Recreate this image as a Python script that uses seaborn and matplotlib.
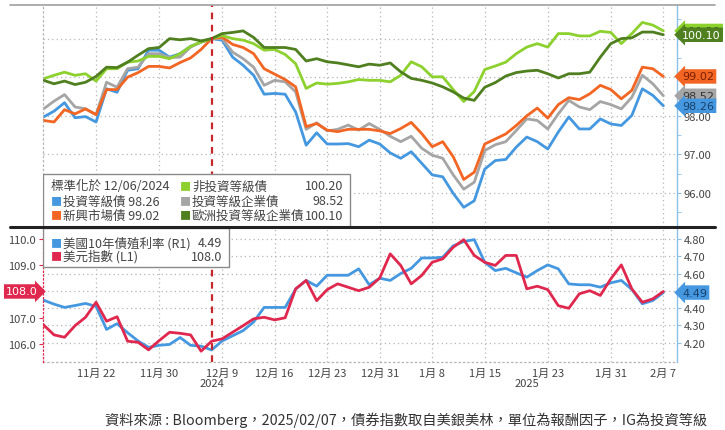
import matplotlib
matplotlib.use("Agg")
import matplotlib.pyplot as plt
import seaborn as sns
import numpy as np
from matplotlib.lines import Line2D
from matplotlib.patches import Rectangle
from matplotlib.transforms import blended_transform_factory

sns.set_style("white")
plt.rcParams['font.family'] = ['Noto Sans CJK TC', 'DejaVu Sans']

# --- data (trading-day index 0..59, 12/06/2024 = 16) ---
ig = [97.97, 98.12, 98.34, 97.95, 97.98, 97.84, 98.70, 98.61, 99.18, 99.22,
      99.70, 99.70, 99.52, 99.61, 99.80, 99.91, 100.00, 99.96, 99.52, 99.31,
      99.05, 98.56, 98.58, 98.56, 98.10, 97.24, 97.56, 97.27, 97.27, 97.28,
      97.20, 97.37, 97.27, 97.04, 96.90, 97.07, 96.77, 96.47, 96.42, 95.99,
      95.63, 95.80, 96.62, 96.84, 96.87, 97.19, 97.45, 97.33, 97.14, 97.58,
      97.97, 97.66, 97.66, 97.92, 97.79, 97.75, 98.01, 98.70, 98.53, 98.26]
ig_corp = [98.18, 98.38, 98.55, 98.23, 98.18, 98.03, 98.87, 98.74, 99.22, 99.26,
           99.61, 99.61, 99.51, 99.52, 99.78, 99.91, 100.00, 100.00, 99.65, 99.48,
           99.26, 98.79, 98.92, 98.88, 98.62, 97.65, 97.82, 97.61, 97.65, 97.76,
           97.63, 97.80, 97.65, 97.47, 97.33, 97.47, 97.16, 96.98, 96.90, 96.47,
           96.10, 96.28, 97.10, 97.25, 97.33, 97.62, 97.92, 97.88, 97.66, 98.05,
           98.40, 98.23, 98.16, 98.37, 98.29, 98.18, 98.48, 99.05, 98.83, 98.52]
em = [97.88, 97.84, 98.16, 98.05, 98.18, 98.03, 98.68, 98.68, 99.00, 99.12,
      99.28, 99.28, 99.24, 99.38, 99.50, 99.72, 100.00, 100.04, 99.85, 99.77,
      99.61, 99.22, 99.08, 98.94, 98.75, 97.72, 97.80, 97.63, 97.59, 97.65,
      97.65, 97.65, 97.61, 97.54, 97.67, 97.83, 97.54, 97.20, 97.33, 96.94,
      96.35, 96.54, 97.27, 97.40, 97.53, 97.75, 98.00, 98.20, 97.94, 98.29,
      98.47, 98.42, 98.57, 98.79, 98.68, 98.44, 98.66, 99.26, 99.22, 99.02]
hy = [98.96, 99.05, 99.13, 99.05, 99.09, 98.90, 99.22, 99.22, 99.39, 99.42,
      99.54, 99.54, 99.48, 99.61, 99.80, 99.91, 100.00, 100.08, 100.00, 99.96,
      99.87, 99.70, 99.72, 99.59, 99.35, 98.71, 98.85, 98.82, 98.84, 98.88,
      98.94, 98.92, 98.92, 98.88, 99.05, 99.40, 99.27, 99.01, 99.01, 98.68,
      98.37, 98.63, 99.20, 99.29, 99.39, 99.61, 99.78, 99.87, 99.78, 100.13,
      100.13, 100.07, 100.07, 100.19, 100.16, 99.87, 100.13, 100.42, 100.35, 100.20]
eu = [98.92, 98.83, 98.90, 98.81, 98.87, 99.02, 99.26, 99.25, 99.39, 99.57,
      99.74, 99.77, 100.00, 99.97, 100.00, 99.94, 100.00, 100.13, 100.16, 100.20,
      100.03, 99.77, 99.77, 99.77, 99.72, 99.42, 99.48, 99.40, 99.37, 99.32,
      99.27, 99.34, 99.31, 99.37, 99.14, 98.97, 98.92, 98.85, 98.75, 98.62,
      98.46, 98.40, 98.74, 98.86, 99.03, 99.12, 99.16, 99.18, 99.09, 98.98,
      99.09, 99.09, 99.13, 99.52, 99.87, 100.00, 100.02, 100.17, 100.17, 100.10]
ust10 = [4.446, 4.423, 4.404, 4.415, 4.427, 4.410, 4.277, 4.310, 4.258, 4.210,
         4.173, 4.185, 4.190, 4.230, 4.185, 4.180, 4.158, 4.210, 4.240, 4.270,
         4.320, 4.404, 4.404, 4.404, 4.510, 4.560, 4.527, 4.590, 4.590, 4.590,
         4.627, 4.535, 4.573, 4.560, 4.600, 4.630, 4.690, 4.690, 4.694, 4.760,
         4.785, 4.796, 4.665, 4.617, 4.630, 4.604, 4.579, 4.617, 4.650, 4.627,
         4.540, 4.535, 4.535, 4.521, 4.546, 4.560, 4.508, 4.425, 4.444, 4.490]
dxy = [106.73, 106.35, 106.26, 106.70, 107.02, 107.59, 106.87, 107.04, 106.11, 106.07,
       105.78, 106.13, 106.45, 106.41, 106.35, 105.73, 106.11, 106.20, 106.45, 106.70,
       106.96, 107.02, 106.92, 107.00, 108.10, 108.42, 107.65, 108.07, 108.29, 108.16,
       108.03, 108.16, 108.51, 109.43, 108.99, 108.29, 108.61, 109.11, 109.24, 109.68,
       109.97, 109.37, 109.11, 108.99, 109.37, 109.37, 108.10, 108.20, 108.07, 107.46,
       107.36, 107.91, 108.03, 107.85, 108.48, 109.01, 108.10, 107.59, 107.72, 108.00]
base_idx = 16
tick_pos = [5, 11, 17, 22, 27, 32, 37, 42, 48, 54, 59]
tick_labels = ['11月 22', '11月 30', '12月 9', '12月 16', '12月 23', '12月 31',
               '1月 8', '1月 15', '1月 23', '1月 31', '2月 7']
year_labels = [(16, '2024'), (46, '2025')]
x = np.arange(len(ig))

C_IG = '#4598e0'
C_IGC = '#a5a5a5'
C_EM = '#f26522'
C_HY = '#8dd12f'
C_EU = '#4f7f1f'
C_DXY = '#e0284f'
C_AX = '#8cc0e6'
GRID = dict(color='#b5b5b5', linestyle=(0, (1, 2.5)), linewidth=0.9)


def tag(ax, y, text, fc, tc, side='right'):
    trans = blended_transform_factory(ax.transAxes, ax.transData)
    if side == 'right':
        ax.text(1.008, y, text, transform=trans, ha='left', va='center', fontsize=8,
                color=tc, family=['DejaVu Sans'], clip_on=False, zorder=20,
                bbox=dict(boxstyle='larrow,pad=0.2', fc=fc, ec='none'))
    else:
        ax.text(-0.008, y, text, transform=trans, ha='right', va='center', fontsize=8,
                color=tc, family=['DejaVu Sans'], clip_on=False, zorder=20,
                bbox=dict(boxstyle='rarrow,pad=0.2', fc=fc, ec='none'))


fig = plt.figure(figsize=(7.25, 4.31), dpi=100)
ax_t = fig.add_axes([0.0593, 0.471, 0.8745, 0.515])
ax_b = fig.add_axes([0.0593, 0.158, 0.8745, 0.311])
ax_l = ax_b.twinx()

# ---------- top panel ----------
for vals, col in [(ig, C_IG), (ig_corp, C_IGC), (em, C_EM), (hy, C_HY), (eu, C_EU)]:
    sns.lineplot(x=x, y=vals, color=col, linewidth=2.0, ax=ax_t)
ax_t.axvline(base_idx, color='#c8262d', linestyle=(0, (3, 2.5)), linewidth=1.6, zorder=3)
ax_t.set_xlim(-0.05, 60.3)
ax_t.set_ylim(95.12, 100.87)
ax_t.yaxis.tick_right()
ax_t.set_yticks([96, 97, 98, 99, 100])
ax_t.set_yticklabels(['96.00', '97.00', '98.00', '', ''])
ax_t.set_yticks(np.arange(95.5, 101, 1.0), minor=True)
ax_t.set_xticks(tick_pos)
ax_t.set_xticklabels([])
ax_t.tick_params(axis='x', length=0)
ax_t.tick_params(axis='y', which='both', right=True, length=3, color=C_AX,
                 labelsize=8, labelcolor='#444444', pad=2)
ax_t.grid(True, **GRID)
for s in ['top', 'bottom']:
    ax_t.spines[s].set_visible(False)
ax_t.spines['left'].set(color='#b5b5b5', linestyle=(0, (1, 2.5)), linewidth=0.9)
ax_t.spines['right'].set(color=C_AX, linewidth=1.0)

tag(ax_t, 100.20, '100.20', C_HY, '#2d4a0a')
tag(ax_t, 100.10, '100.10', C_EU, 'white')
tag(ax_t, 99.02, '99.02', C_EM, '#7a1f00')
tag(ax_t, 98.52, '98.52', C_IGC, '#333333')
tag(ax_t, 98.26, '98.26', C_IG, '#17406b')

# legend box (top)
ax_t.add_patch(Rectangle((0.0, 0.0), 0.484, 0.238, transform=ax_t.transAxes,
                         fc='white', ec='#8a8a8a', lw=1.0, zorder=8))
fs = 9
rows = [0.185, 0.118, 0.052]
ax_t.text(0.012, rows[0], '標準化於 12/06/2024', transform=ax_t.transAxes,
          fontsize=fs, color='#444444', va='center', zorder=9)
left_items = [('投資等級債 98.26', C_IG), ('新興市場債 99.02', C_EM)]
for (lab, col), ry in zip(left_items, rows[1:]):
    ax_t.text(0.012, ry, '■', transform=ax_t.transAxes, fontsize=8, color=col,
              va='center', zorder=9)
    ax_t.text(0.031, ry, lab, transform=ax_t.transAxes, fontsize=fs,
              color='#444444', va='center', zorder=9)
right_items = [('非投資等級債', '100.20', C_HY), ('投資等級企業債', '98.52', C_IGC),
               ('歐洲投資等級企業債', '100.10', C_EU)]
for (lab, v, col), ry in zip(right_items, rows):
    ax_t.text(0.216, ry, '■', transform=ax_t.transAxes, fontsize=8, color=col,
              va='center', zorder=9)
    ax_t.text(0.235, ry, lab, transform=ax_t.transAxes, fontsize=fs,
              color='#444444', va='center', zorder=9)
    ax_t.text(0.474, ry, v, transform=ax_t.transAxes, fontsize=fs,
              color='#444444', va='center', ha='right', zorder=9)

# ---------- bottom panel: yield (right axis) ----------
sns.lineplot(x=x, y=ust10, color=C_IG, linewidth=2.0, ax=ax_b)
ax_b.axvline(base_idx, color='#c8262d', linestyle=(0, (3, 2.5)), linewidth=1.6, zorder=3)
ax_b.set_xlim(-0.05, 60.3)
ax_b.set_ylim(4.089, 4.864)
ax_b.set_yticks([4.2, 4.3, 4.4, 4.5, 4.6, 4.7, 4.8])
ax_b.set_yticklabels(['4.20', '4.30', '4.40', '', '4.60', '4.70', '4.80'])
ax_b.yaxis.tick_right()
ax_b.tick_params(axis='y', left=False, right=True, labelleft=False, labelright=True,
                 length=3, color=C_AX, labelsize=8, labelcolor='#444444', pad=2)
ax_b.set_ylabel('')
ax_b.set_xticks(tick_pos)
ax_b.set_xticklabels(tick_labels)
ax_b.set_xticks(x, minor=True)
ax_b.tick_params(axis='x', which='major', length=3, color='#9a9a9a', labelsize=8,
                 labelcolor='#444444', pad=1)
ax_b.tick_params(axis='x', which='minor', length=2, color='#9a9a9a')
ax_b.grid(True, **GRID)
ax_b.spines['top'].set_visible(False)
ax_b.spines['bottom'].set(color='#b5b5b5', linestyle=(0, (1, 2.5)), linewidth=0.9)
ax_b.spines['left'].set_visible(False)
ax_b.spines['right'].set(color=C_AX, linewidth=1.0)
for pos, yr in year_labels:
    ax_b.text(pos, -0.158, yr, transform=blended_transform_factory(ax_b.transData, ax_b.transAxes),
              ha='center', va='center', fontsize=8, color='#444444')

# ---------- bottom panel: dollar index (left axis) ----------
sns.lineplot(x=x, y=dxy, color=C_DXY, linewidth=2.0, ax=ax_l)
ax_l.set_ylim(105.323, 110.418)
ax_l.set_yticks([106, 107, 108, 109, 110])
ax_l.set_yticklabels(['106.0', '107.0', '', '109.0', '110.0'])
ax_l.yaxis.tick_left()
ax_l.tick_params(axis='y', left=True, right=False, labelleft=True, labelright=False,
                 length=3, color=C_DXY, labelsize=8, labelcolor='#444444', pad=2)
ax_l.set_ylabel('')
for s in ['top', 'bottom', 'right']:
    ax_l.spines[s].set_visible(False)
ax_l.spines['left'].set(color=C_DXY, linestyle=(0, (1, 2)), linewidth=0.9)

tag(ax_b, 4.49, '4.49', C_IG, '#17406b')
tag(ax_l, 108.0, '108.0', C_DXY, 'white', side='left')

# legend box (bottom)
ax_l.add_patch(Rectangle((0.0, 0.71), 0.293, 0.29, transform=ax_l.transAxes,
                         fc='white', ec='#8a8a8a', lw=1.0, zorder=8))
bot_items = [('美國10年債殖利率 (R1)', '4.49', C_IG, 0.888),
             ('美元指數 (L1)', '108.0', C_DXY, 0.790)]
for lab, v, col, ry in bot_items:
    ax_l.text(0.012, ry, '■', transform=ax_l.transAxes, fontsize=8, color=col,
              va='center', zorder=9)
    ax_l.text(0.031, ry, lab, transform=ax_l.transAxes, fontsize=fs,
              color='#444444', va='center', zorder=9)
    ax_l.text(0.283, ry, v, transform=ax_l.transAxes, fontsize=fs,
              color='#444444', va='center', ha='right', zorder=9)

# frame lines
fig.add_artist(Line2D([0.014, 0.986], [0.986, 0.986], color='#a0a0a0', lw=1.2))
fig.add_artist(Line2D([0.014, 0.986], [0.4705, 0.4705], color='#222222', lw=2.2))

fig.text(0.145, 0.026,
         '資料來源 : Bloomberg，2025/02/07，債券指數取自美銀美林，單位為報酬因子，IG為投資等級',
         fontsize=10.3, color='#333333', va='center')

fig.savefig('out.png', dpi=100)
